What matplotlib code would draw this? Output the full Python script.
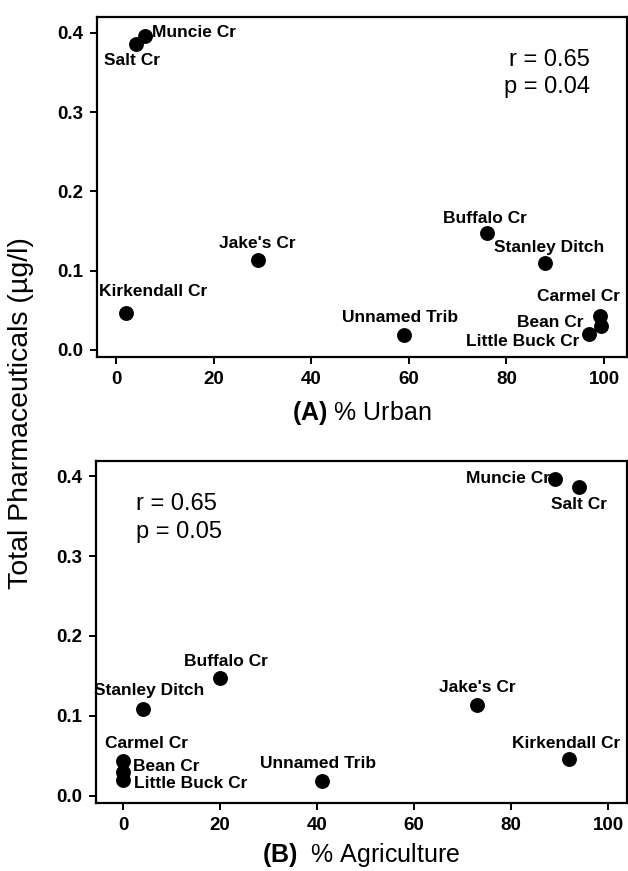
import numpy as np
import matplotlib.pyplot as plt

plt.rcParams['font.family'] = ['Liberation Sans', 'DejaVu Sans']
plt.rcParams['mathtext.fontset'] = 'custom'
plt.rcParams['mathtext.bf'] = 'Liberation Sans:bold'
plt.rcParams['mathtext.rm'] = 'Liberation Sans'

# Streams and total pharmaceuticals (ug/l)
sites = ['Muncie Cr', 'Salt Cr', 'Kirkendall Cr', "Jake's Cr", 'Unnamed Trib',
         'Buffalo Cr', 'Stanley Ditch', 'Carmel Cr', 'Bean Cr', 'Little Buck Cr']
pharma = [0.396, 0.386, 0.046, 0.114, 0.019, 0.147, 0.109, 0.043, 0.030, 0.020]

# Land use (%)
urban = [6.0, 4.0, 2.0, 29.0, 59.0, 76.0, 88.0, 99.2, 99.3, 97.0]
agric = [89.0, 94.0, 92.0, 73.0, 41.0, 20.0, 4.0, 0.0, 0.0, 0.0]

# label offsets (pixels) and alignment for each panel
offs_a = [(7, 4, 'left'), (-4, -17, 'center'), (27, 22, 'center'), (0, 16, 'center'),
          (-4, 17, 'center'), (-2, 15, 'center'), (4, 16, 'center'), (-22, 19, 'center'),
          (-17, 4, 'right'), (-10, -7, 'right')]
offs_b = [(-5, 1, 'right'), (0, -17, 'center'), (-3, 16, 'center'), (0, 17, 'center'),
          (-4, 17, 'center'), (6, 17, 'center'), (7, 18, 'center'), (23, 18, 'center'),
          (10, 5, 'left'), (11, -4, 'left')]

W, H = 628, 871
fig = plt.figure(figsize=(W / 100, H / 100), dpi=100)


def px_axes(l, r, t, b):
    return fig.add_axes([l / W, (H - b) / H, (r - l) / W, (b - t) / H])


def panel(ax, x, offs, xlim, ylim, xlabel, pad):
    ax.scatter(x, pharma, s=115, color='black', zorder=3, linewidths=0)
    for xi, yi, name, (dx, dy, ha) in zip(x, pharma, sites, offs):
        ax.annotate(name, (xi, yi), xytext=(dx, dy), textcoords='offset pixels',
                    ha=ha, va='center', fontsize=12.5, fontweight='bold')
    ax.set_xlim(*xlim)
    ax.set_ylim(*ylim)
    ax.set_xticks([0, 20, 40, 60, 80, 100])
    ax.set_yticks([0.0, 0.1, 0.2, 0.3, 0.4])
    ax.set_yticklabels(['0.0', '0.1', '0.2', '0.3', '0.4'])
    for side in ['left', 'bottom', 'top', 'right']:
        ax.spines[side].set_linewidth(1.6)
    ax.tick_params(direction='out', length=5, width=1.4, labelsize=13.5, pad=5)
    for lab in ax.get_xticklabels() + ax.get_yticklabels():
        lab.set_fontweight('bold')
    ax.set_xlabel(xlabel, fontsize=18, labelpad=pad)


ax1 = px_axes(97, 627, 17, 357)
panel(ax1, urban, offs_a, (-3.9, 104.7), (-0.009, 0.420), r'$\mathbf{(A)}$ % Urban', 8)
ax1.text(0.93, 0.905, 'r = 0.65\np = 0.04', transform=ax1.transAxes, ha='right', va='top',
         fontsize=17, linespacing=1.3)

ax2 = px_axes(96, 627, 461, 803)
panel(ax2, agric, offs_b, (-5.6, 103.9), (-0.009, 0.419), r'$\mathbf{(B)}$  % Agriculture', 5)
ax2.text(0.075, 0.905, 'r = 0.65\np = 0.05', transform=ax2.transAxes, ha='left', va='top',
         fontsize=17, linespacing=1.3)

fig.text(21 / W, (H - 413) / H, 'Total Pharmaceuticals (µg/l)', rotation=90,
         ha='center', va='center', fontsize=20.5)

fig.savefig('out.png', dpi=100)
